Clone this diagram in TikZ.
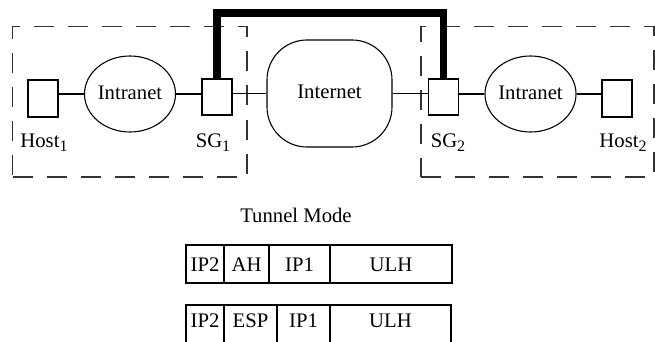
\documentclass[tikz,border=0pt]{standalone}
\usepackage{fontspec}
\setmainfont{Liberation Serif}
\usetikzlibrary{shapes.geometric}
\newcommand\subs[1]{\raisebox{-4.5pt}{\fontsize{16}{16}\selectfont #1}}
\begin{document}
\begin{tikzpicture}[x=1pt,y=-1pt,
  font=\fontsize{20.7}{22}\selectfont,
  thin line/.style={line width=1.1pt},
  hostbox/.style={draw,thin line,rectangle,inner sep=0pt,minimum width=30pt,minimum height=36pt},
  cloud/.style={draw,thin line,ellipse,inner sep=0pt,minimum width=84pt,minimum height=76pt},
  inetbox/.style={draw,thin line,rectangle,rounded corners=40pt,inner sep=0pt,minimum width=125pt,minimum height=107pt},
  lbl/.style={anchor=base,inner sep=0pt},
  zone/.style={draw=black!80,line width=1.2pt,dash pattern=on 20pt off 14pt,rectangle,inner sep=0pt},
  tunnel/.style={line width=7.3pt},
  cellA/.style={draw,thin line,rectangle,inner sep=0pt,minimum height=38pt,text height=14pt,text depth=0pt},
  cellB/.style={draw,thin line,rectangle,inner sep=0pt,minimum height=44pt,text height=14pt,text depth=14pt}
]
\clip (0,0) rectangle (655,342);

% security zones
\node[zone,minimum width=234.5pt,minimum height=150.5pt] (zone1) at (129.75,101.75) {};
\node[zone,minimum width=233pt,minimum height=150.5pt] (zone2) at (537.5,101.75) {};

% nodes
\node[hostbox,minimum height=37pt] (host1) at (43,98.5) {};
\node[cloud] (intr1) at (130,94) {\raisebox{3pt}{Intranet}};
\node[hostbox] (sg1) at (217,97) {};
\node[inetbox] (inet) at (329.5,93.5) {\raisebox{3pt}{Internet}};
\node[hostbox] (sg2) at (443.5,97) {};
\node[cloud] (intr2) at (530.5,94) {\raisebox{3pt}{Intranet}};
\node[hostbox,minimum height=37pt] (host2) at (617,98.5) {};

% labels
\node[lbl] (lhost1) at (44,147) {Host\subs{1}};
\node[lbl] (lsg1) at (213,147) {SG\subs{1}};
\node[lbl] (lsg2) at (448,147) {SG\subs{2}};
\node[lbl] (lhost2) at (623,147) {Host\subs{2}};

% connectors
\draw[thin line] (intr1.west) -- (intr1.west -| host1.east);
\draw[thin line] (intr1.east) -- (intr1.east -| sg1.west);
\draw[thin line] (inet.west) -- (inet.west -| sg1.east);
\draw[thin line] (inet.east) -- (inet.east -| sg2.west);
\draw[thin line] (intr2.west) -- (intr2.west -| sg2.east);
\draw[thin line] (intr2.east) -- (intr2.east -| host2.west);

% tunnel
\coordinate (ttop) at (0,13);
\draw[tunnel] (sg1.north) -- (sg1.north |- ttop) -| (sg2.north);

% tunnel mode packets
\node[lbl] (title) at (296,222.5) {Tunnel Mode};

\node[cellA,minimum width=38pt] (a1) at (205,264) {IP2};
\node[cellA,minimum width=45pt] (a2) at (246.5,264) {AH};
\node[cellA,minimum width=61pt] (a3) at (299.5,264) {IP1};
\node[cellA,minimum width=122pt] (a4) at (391,264) {ULH};

\node[cellB,minimum width=38pt] (b1) at (205,327) {IP2};
\node[cellB,minimum width=53pt] (b2) at (250.5,327) {ESP};
\node[cellB,minimum width=53pt] (b3) at (303.5,327) {IP1};
\node[cellB,minimum width=121pt] (b4) at (390.5,327) {ULH};
\end{tikzpicture}
\end{document}
